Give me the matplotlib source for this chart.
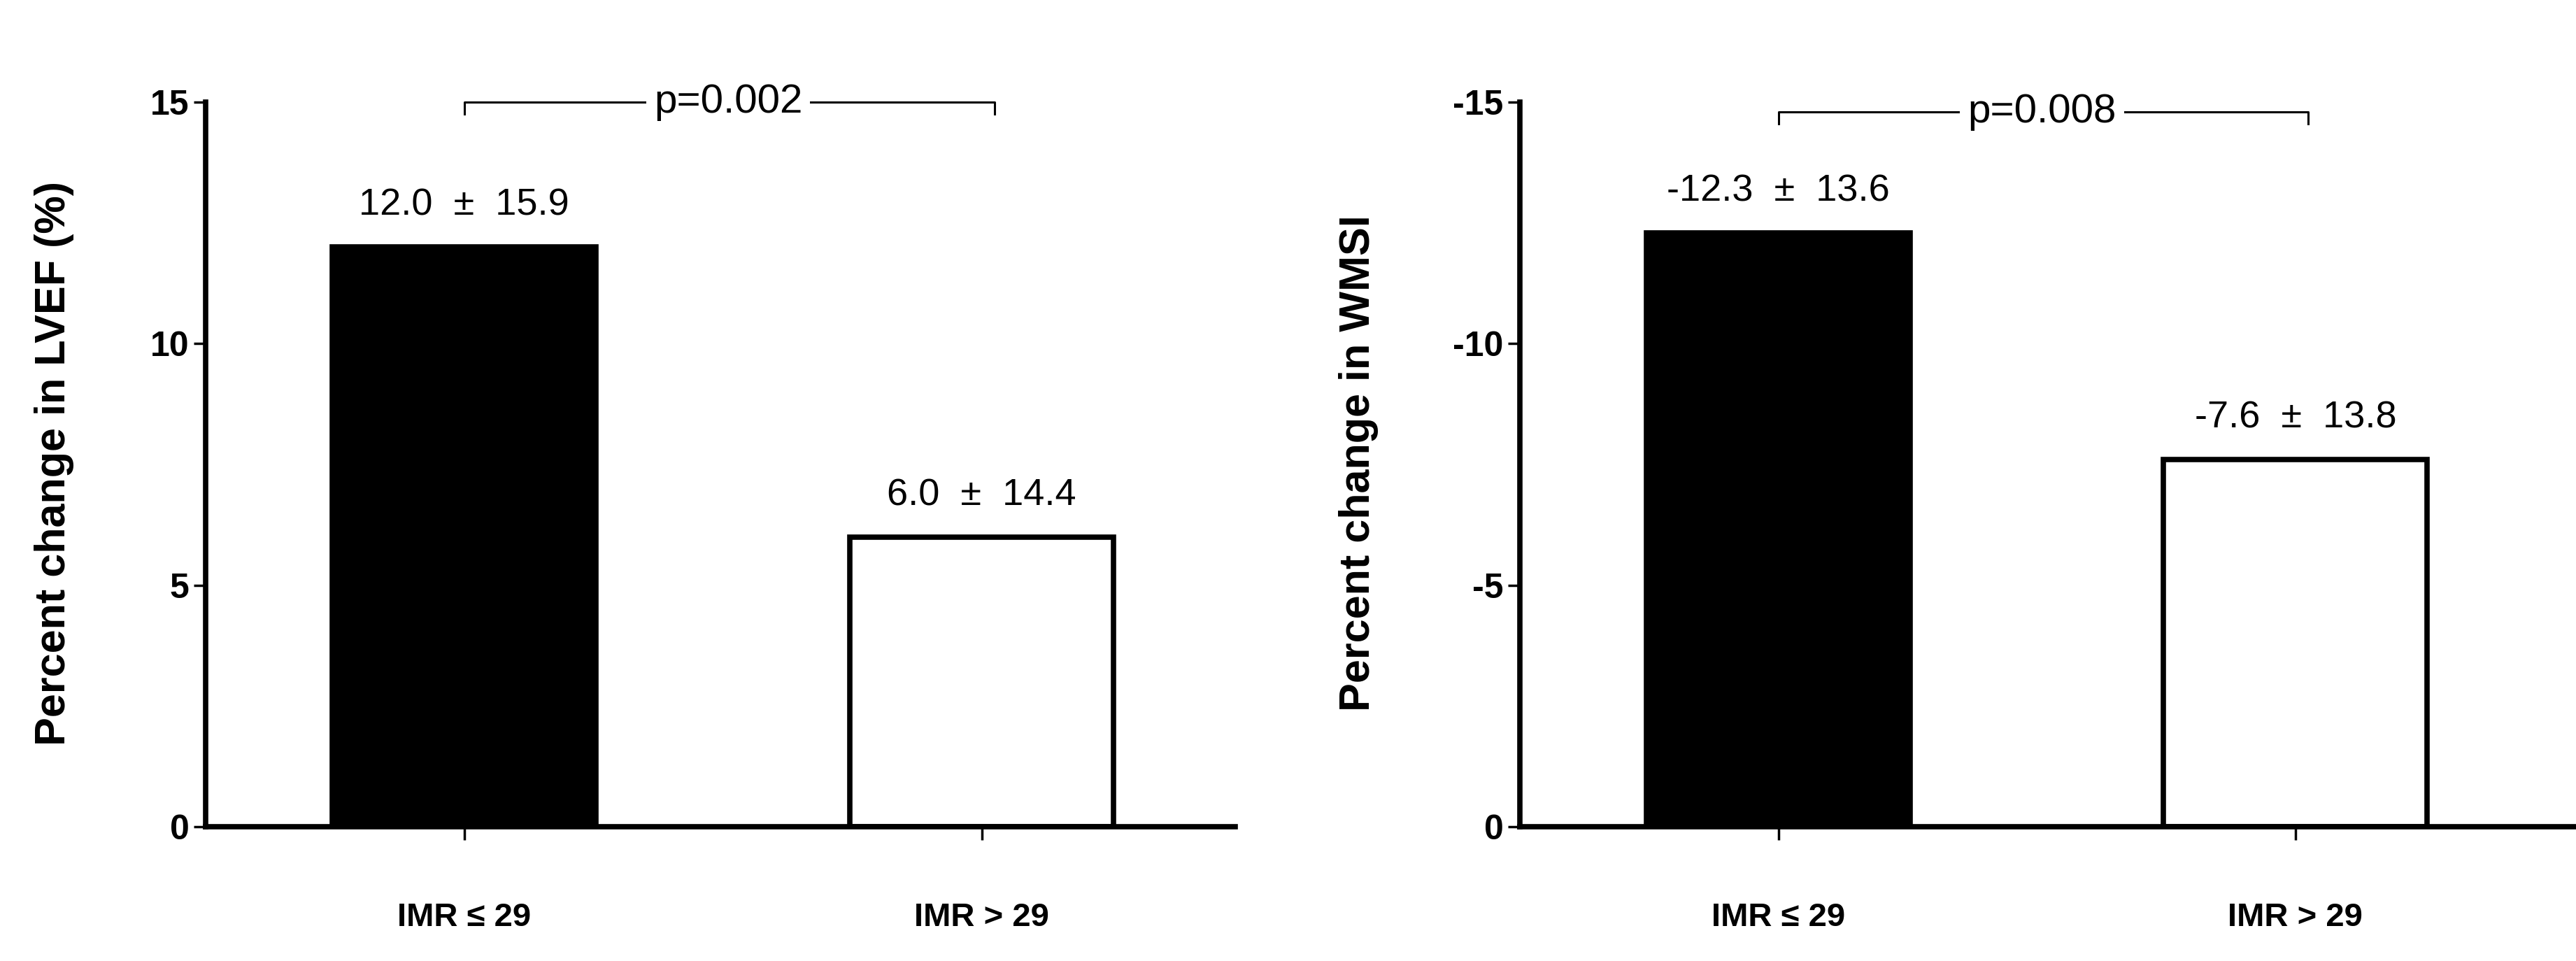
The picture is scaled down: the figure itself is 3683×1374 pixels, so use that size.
import matplotlib
matplotlib.use("Agg")
import matplotlib.pyplot as plt

# values
groups = ["IMR \u2264 29", "IMR > 29"]
lvef_mean = [12.0, 6.0]
lvef_sd = [15.9, 14.4]
wmsi_mean = [-12.3, -7.6]
wmsi_sd = [13.6, 13.8]
lvef_ticks = [0, 5, 10, 15]
wmsi_ticks = [0, -5, -10, -15]
p_lvef = "p=0.002"
p_wmsi = "p=0.008"

plt.rcParams['font.family'] = ['Liberation Sans', 'DejaVu Sans']

fig = plt.figure(figsize=(36.83, 13.74), dpi=100)
ax1 = fig.add_axes([0.0798, 0.1397, 0.3997, 0.754])
ax2 = fig.add_axes([0.590, 0.1397, 0.4095, 0.754])


def style_axis(ax, ticks, top):
    for s in ['top', 'right']:
        ax.spines[s].set_visible(False)
    for s in ['left', 'bottom']:
        ax.spines[s].set_linewidth(5.5)
    ax.set_ylim(0, top)
    ax.set_yticks(ticks)
    ax.set_yticklabels([str(t) for t in ticks], fontsize=36, fontweight='bold')
    ax.set_xticks([0, 1])
    ax.set_xticklabels(groups, fontsize=34, fontweight='bold')
    ax.tick_params(axis='y', length=12, width=2.5, pad=5)
    ax.tick_params(axis='x', length=14, width=2.5, pad=64)


def draw_panel(ax, means, sds, ticks, top, xmax, ptext, py, sign):
    x = [0, 1]
    ax.bar(x, means, width=0.51, color=['black', 'white'],
           edgecolor='black', linewidth=5.5, zorder=2)
    style_axis(ax, ticks, top)
    ax.set_xlim(-0.5, xmax)
    for xi, m, s in zip(x, means, sds):
        ax.text(xi, m + sign * 0.5, f"{m:.1f}  \u00b1  {s:.1f}",
                ha='center', va='bottom', fontsize=39)
    # significance bracket
    drop = 0.25 * sign
    ax.plot([0, 0, 1.025, 1.025], [py - drop, py, py, py - drop],
            color='black', linewidth=2.2, clip_on=False)
    ax.text(0.51, py, ptext, ha='center', va='center', fontsize=42,
            clip_on=False,
            bbox=dict(facecolor='white', edgecolor='none', pad=8))


draw_panel(ax1, lvef_mean, lvef_sd, lvef_ticks, 15, 1.49, p_lvef, 15.0, 1)
draw_panel(ax2, wmsi_mean, wmsi_sd, wmsi_ticks, -15, 1.54, p_wmsi, -14.8, -1)

ymid = 1 - 662 / 1374
fig.text(78 / 3683, ymid, "Percent change in LVEF (%)", rotation=90,
         ha='center', va='center', fontsize=44, fontweight='bold')
fig.text(1943 / 3683, ymid, "Percent change in WMSI", rotation=90,
         ha='center', va='center', fontsize=44, fontweight='bold')

fig.savefig("out.png", dpi=100, facecolor='white')
